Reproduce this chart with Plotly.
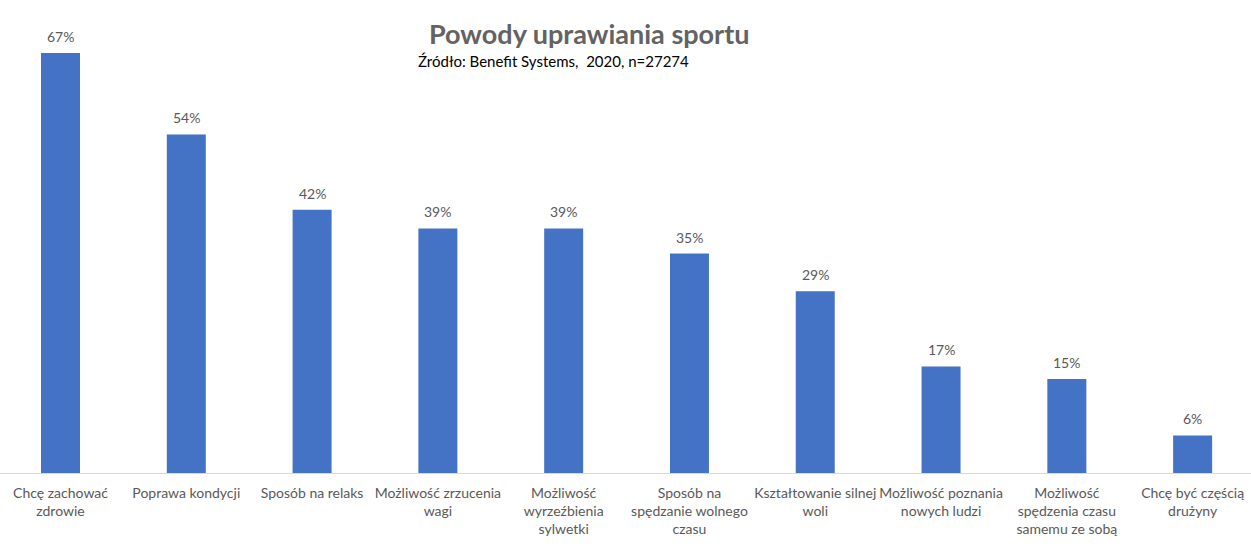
import plotly.graph_objects as go

categories = ["Chcę zachować zdrowie", "Poprawa kondycji", "Sposób na relaks",
              "Możliwość zrzucenia wagi", "Możliwość wyrzeźbienia sylwetki",
              "Sposób na spędzanie wolnego czasu", "Kształtowanie silnej woli",
              "Możliwość poznania nowych ludzi", "Możliwość spędzenia czasu samemu ze sobą",
              "Chcę być częścią drużyny"]
tick_labels = ["Chcę zachować<br>zdrowie", "Poprawa kondycji", "Sposób na relaks",
               "Możliwość zrzucenia<br>wagi", "Możliwość<br>wyrzeźbienia<br>sylwetki",
               "Sposób na<br>spędzanie wolnego<br>czasu", "Kształtowanie silnej<br>woli",
               "Możliwość poznania<br>nowych ludzi", "Możliwość<br>spędzenia czasu<br>samemu ze sobą",
               "Chcę być częścią<br>drużyny"]
values = [67, 54, 42, 39, 39, 35, 29, 17, 15, 6]

title_text = "Powody uprawiania sportu"
subtitle_text = "Źródło: Benefit Systems,  2020, n=27274"

FONT = "Lato"
GREY = "#595959"

fig = go.Figure()
fig.add_trace(go.Bar(x=categories, y=values, width=0.31,
                     marker=dict(color="#4472C4", line=dict(width=0)),
                     hoverinfo="skip"))

for c, v in zip(categories, values):
    fig.add_annotation(x=c, y=v, text=f"{v}%", showarrow=False,
                       yanchor="bottom", yshift=6,
                       font=dict(family=FONT, size=14, color=GREY))

fig.add_annotation(xref="paper", yref="paper", x=0.471, y=1-33/473, text=f"<b>{title_text}</b>",
                   showarrow=False, xanchor="center", yanchor="middle",
                   font=dict(family=FONT, size=27, color="#636363"))
fig.add_annotation(xref="paper", yref="paper", x=416/1251, y=1-61/473, text=subtitle_text,
                   showarrow=False, xanchor="left", yanchor="middle",
                   font=dict(family=FONT, size=15, color="#000000"))

fig.update_layout(
    width=1251, height=551,
    margin=dict(l=0, r=0, t=0, b=78),
    plot_bgcolor="white", paper_bgcolor="white",
    showlegend=False,
    xaxis=dict(range=[-0.481, 9.464], tickmode="array", tickvals=categories, ticktext=tick_labels,
               showline=True, linecolor="#D9D9D9", linewidth=1, showgrid=False,
               ticks="", ticklabelstandoff=7,
               tickfont=dict(family=FONT, size=14, color=GREY), fixedrange=True),
    yaxis=dict(range=[0, 75.44], showticklabels=False, showgrid=False, zeroline=False,
               showline=False, fixedrange=True),
)

fig.write_html("out.html")
